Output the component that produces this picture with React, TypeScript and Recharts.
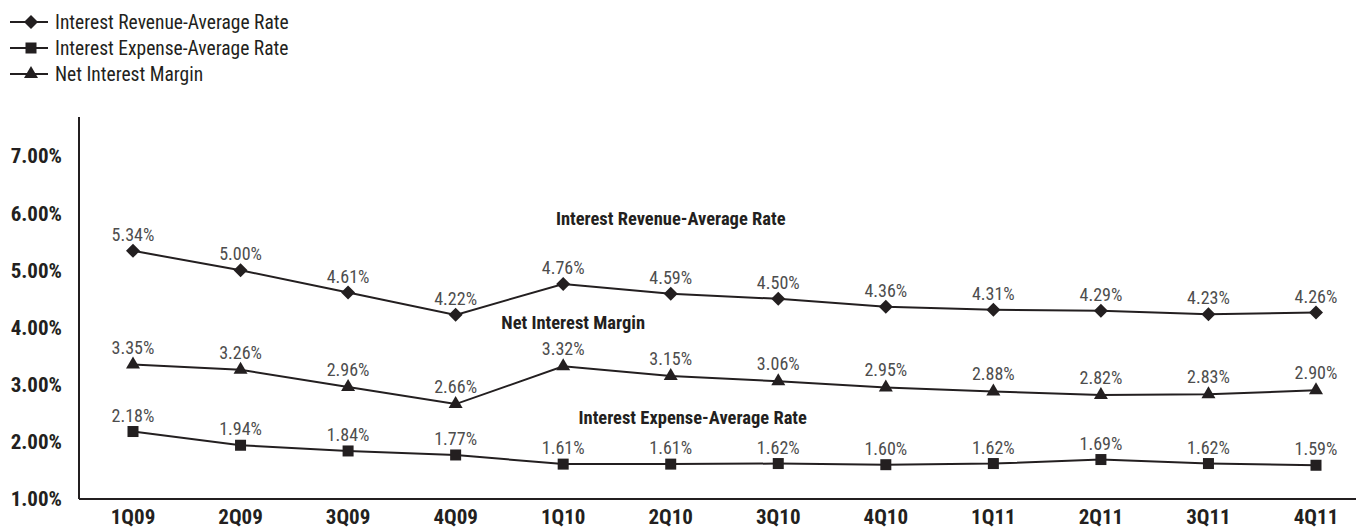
import { LineChart, Line, XAxis, YAxis, LabelList, ReferenceDot } from 'recharts'

const quarters = ['1Q09', '2Q09', '3Q09', '4Q09', '1Q10', '2Q10', '3Q10', '4Q10', '1Q11', '2Q11', '3Q11', '4Q11']
const revenueRate = [5.34, 5.0, 4.61, 4.22, 4.76, 4.59, 4.5, 4.36, 4.31, 4.29, 4.23, 4.26]
const expenseRate = [2.18, 1.94, 1.84, 1.77, 1.61, 1.61, 1.62, 1.6, 1.62, 1.69, 1.62, 1.59]
const netMargin = [3.35, 3.26, 2.96, 2.66, 3.32, 3.15, 3.06, 2.95, 2.88, 2.82, 2.83, 2.9]
const yTicks = [1, 2, 3, 4, 5, 6, 7]

const data = quarters.map((q, i) => ({
  q,
  rev: revenueRate[i],
  exp: expenseRate[i],
  nim: netMargin[i],
}))

const ink = '#231f20'
const labelGray = '#4d4d4d'
const font = '"Liberation Sans Narrow", "Arial Narrow", "Roboto Condensed", sans-serif'

type Shape = 'diamond' | 'square' | 'triangle'

function marker(shape: Shape, cx: number, cy: number, key?: string) {
  if (shape === 'diamond') {
    const r = 7
    return <path key={key} d={`M${cx},${cy - r}L${cx + r},${cy}L${cx},${cy + r}L${cx - r},${cy}Z`} fill={ink} />
  }
  if (shape === 'square') {
    return <rect key={key} x={cx - 5.5} y={cy - 5.5} width={11} height={11} fill={ink} />
  }
  return <path key={key} d={`M${cx},${cy - 8}L${cx + 7},${cy + 4}L${cx - 7},${cy + 4}Z`} fill={ink} />
}

const dotFor = (shape: Shape) => (props: any) => {
  const { cx, cy, index } = props
  return marker(shape, cx, cy, `${shape}-${index}`)
}

const pct = (v: any) => `${Number(v).toFixed(2)}%`

const legendItems: { name: string; shape: Shape }[] = [
  { name: 'Interest Revenue-Average Rate', shape: 'diamond' },
  { name: 'Interest Expense-Average Rate', shape: 'square' },
  { name: 'Net Interest Margin', shape: 'triangle' },
]

const labelStyle = { fill: labelGray, fontSize: 18, fontFamily: font }
const noteStyle = { fill: ink, fontSize: 18.5, fontWeight: 700, fontFamily: font }

export default function App() {
  return (
    <div style={{ position: 'absolute', left: 0, top: 0, width: 1356, height: 531, overflow: 'hidden', background: '#fff' }}>
      <div style={{ position: 'absolute', left: 0, top: 9, zIndex: 2 }}>
        {legendItems.map((it) => (
          <div key={it.name} style={{ display: 'flex', alignItems: 'center', height: 26 }}>
            <svg width={52} height={26}>
              <line x1={10} x2={48} y1={13} y2={13} stroke={ink} strokeWidth={2} />
              {marker(it.shape, 31, 13)}
            </svg>
            <span style={{ fontFamily: font, fontSize: 19.5, color: ink, marginLeft: 3 }}>{it.name}</span>
          </div>
        ))}
      </div>
      <LineChart width={1380} height={531} data={data} margin={{ top: 117, right: 10, left: 0, bottom: 0 }}>
        <XAxis
          dataKey="q"
          height={32}
          padding={{ left: 54, right: 54 }}
          axisLine={{ stroke: ink, strokeWidth: 2 }}
          tickLine={false}
          tickSize={0}
          tickMargin={10}
          tick={{ fill: ink, fontSize: 21, fontWeight: 700, fontFamily: font }}
        />
        <YAxis
          width={79}
          domain={[1, 7.68]}
          ticks={yTicks}
          allowDataOverflow
          tickFormatter={pct}
          axisLine={{ stroke: ink, strokeWidth: 2 }}
          tickLine={false}
          tickSize={0}
          tickMargin={17}
          tick={{ fill: ink, fontSize: 21, fontWeight: 700, fontFamily: font }}
        />
        <Line dataKey="rev" stroke={ink} strokeWidth={2} dot={dotFor('diamond')} isAnimationActive={false}>
          <LabelList dataKey="rev" position="top" offset={10} formatter={pct} {...labelStyle} />
        </Line>
        <Line dataKey="nim" stroke={ink} strokeWidth={2} dot={dotFor('triangle')} isAnimationActive={false}>
          <LabelList dataKey="nim" position="top" offset={11} formatter={pct} {...labelStyle} />
        </Line>
        <Line dataKey="exp" stroke={ink} strokeWidth={2} dot={dotFor('square')} isAnimationActive={false}>
          <LabelList dataKey="exp" position="top" offset={10} formatter={pct} {...labelStyle} />
        </Line>
        <ReferenceDot x="2Q10" y={5.9} r={0} label={{ value: 'Interest Revenue-Average Rate', position: 'center', ...noteStyle }} />
        <ReferenceDot x="1Q10" y={4.09} r={0} label={{ value: 'Net Interest Margin', position: 'center', dx: 10, ...noteStyle }} />
        <ReferenceDot x="2Q10" y={2.43} r={0} label={{ value: 'Interest Expense-Average Rate', position: 'center', dx: 22, ...noteStyle }} />
      </LineChart>
    </div>
  )
}
